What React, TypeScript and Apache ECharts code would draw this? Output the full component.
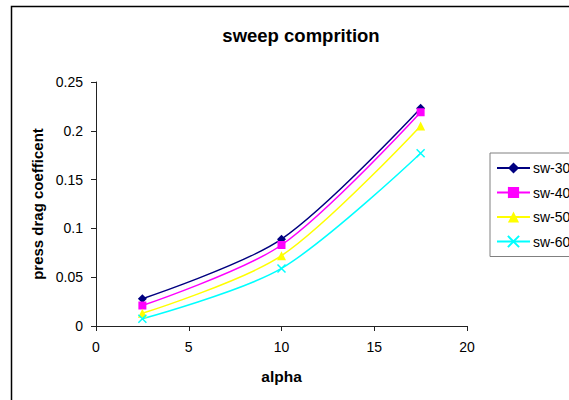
import React, { useEffect, useRef } from "react";
import * as echarts from "echarts";

const alpha = [2.5, 10, 17.5];
const sw30 = [0.028, 0.089, 0.223];
const sw40 = [0.021, 0.083, 0.219];
const sw50 = [0.013, 0.072, 0.205];
const sw60 = [0.0075, 0.059, 0.177];
const seriesNames = ["sw-30", "sw-40", "sw-50", "sw-60"];
const xTicks = [0, 5, 10, 15, 20];
const yTicks = [0, 0.05, 0.1, 0.15, 0.2, 0.25];

const FONT = "Liberation Sans, Arial, sans-serif";

export default function App() {
  const ref = useRef<HTMLDivElement>(null);
  useEffect(() => {
    if (!ref.current) return;
    const chart = echarts.init(ref.current, undefined, { renderer: "svg" });
    const mk = (name: string, vals: number[], color: string, symbol: string, size: number, extra: any = {}) => ({
      name,
      type: "line",
      data: alpha.map((a, i) => [a, vals[i]]),
      smooth: 0.3,
      symbol,
      symbolSize: size,
      showSymbol: true,
      lineStyle: { color, width: 1.5 },
      itemStyle: { color, ...extra },
      emphasis: { disabled: true },
    });
    chart.setOption({
      animation: false,
      backgroundColor: "#fff",
      title: {
        text: "sweep comprition",
        left: 296,
        top: 21,
        textAlign: "center",
        textStyle: { fontFamily: FONT, fontSize: 18.5, fontWeight: "bold", color: "#000" },
      },
      legend: {
        orient: "vertical",
        left: 490,
        top: 153,
        padding: [8, 60, 8, 6],
        itemGap: 10.5,
        itemWidth: 33,
        itemHeight: 14,
        borderColor: "#808080",
        borderWidth: 1,
        data: seriesNames,
        textStyle: { fontFamily: FONT, fontSize: 14, color: "#000", padding: [0, 0, 0, -2] },
      },
      grid: { left: 96, top: 82, width: 371, height: 244, containLabel: false },
      xAxis: {
        type: "value",
        min: xTicks[0],
        max: xTicks[xTicks.length - 1],
        interval: 5,
        name: "alpha",
        nameLocation: "middle",
        nameGap: 42,
        nameTextStyle: { fontFamily: FONT, fontSize: 15.5, fontWeight: "bold", color: "#000" },
        axisLine: { show: true, onZero: false, lineStyle: { color: "#222", width: 1 } },
        axisTick: { show: true, inside: false, length: 5, lineStyle: { color: "#222" } },
        axisLabel: { fontFamily: FONT, fontSize: 14, color: "#000", margin: 14 },
        splitLine: { show: false },
      },
      yAxis: {
        type: "value",
        min: yTicks[0],
        max: yTicks[yTicks.length - 1],
        interval: 0.05,
        name: "press drag coefficent",
        nameLocation: "middle",
        nameRotate: 90,
        nameGap: 50,
        nameTextStyle: { fontFamily: FONT, fontSize: 15, fontWeight: "bold", color: "#000" },
        axisLine: { show: true, lineStyle: { color: "#222", width: 1 } },
        axisTick: { show: true, inside: false, length: 5, lineStyle: { color: "#222" } },
        axisLabel: { fontFamily: FONT, fontSize: 14, color: "#000", margin: 13 },
        splitLine: { show: false },
      },
      graphic: [
        {
          type: "rect",
          shape: { x: 11.5, y: 6.5, width: 800, height: 600 },
          style: { fill: "none", stroke: "#000", lineWidth: 1.5 },
          silent: true,
          z: -1,
        },
      ],
      series: [
        mk(seriesNames[0], sw30, "#000080", "diamond", 9),
        mk(seriesNames[1], sw40, "#FF00FF", "rect", 8),
        mk(seriesNames[2], sw50, "#FFFF00", "triangle", 9),
        mk(seriesNames[3], sw60, "#00FFFF", "path://M0,0L10,10M10,0L0,10", 8, {
          borderColor: "#00FFFF",
          borderWidth: 1.5,
        }),
      ],
    });
    return () => chart.dispose();
  }, []);
  return (
    <div
      ref={ref}
      style={{ position: "absolute", left: 0, top: 0, width: 569, height: 400 }}
    />
  );
}
